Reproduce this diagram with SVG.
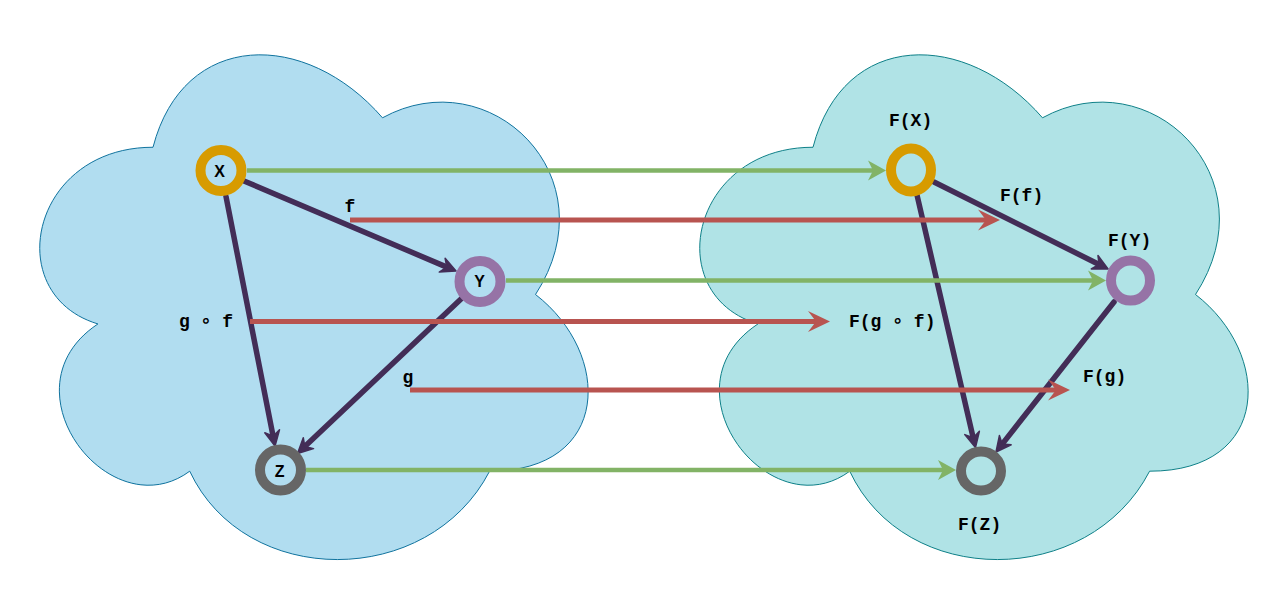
<svg xmlns="http://www.w3.org/2000/svg" width="1271" height="591" viewBox="0 0 1271 591">
<style>
.lbl{font-family:"Liberation Mono","DejaVu Sans Mono",monospace;font-weight:bold;font-size:18px;fill:#000}
.nlbl{font-family:"Liberation Sans","DejaVu Sans",sans-serif;font-weight:bold;font-size:16px;fill:#000;text-anchor:middle}
.pe{fill:none;stroke:#432d57;stroke-width:5.5;stroke-linecap:round}
.ge{fill:none;stroke:#82b366;stroke-width:4.5}
.re{fill:none;stroke:#b85450;stroke-width:5}
.ring{fill:none;stroke-width:10}
</style>
<defs>
<path id="cloud" d="M 153 147.25 C 30.6 147.25 0 294.5 97.92 323.95 C 0 388.74 110.16 530.1 189.72 471.2 C 244.8 589 428.4 589 489.6 471.2 C 612 471.2 612 353.4 535.5 294.5 C 612 176.7 489.6 58.9 382.5 117.8 C 306 29.45 183.6 29.45 153 147.25 Z"/>
<marker id="ap" viewBox="-20 -12 24 24" markerWidth="24" markerHeight="24" refX="-10" refY="0" orient="auto" markerUnits="userSpaceOnUse" overflow="visible"><path d="M0,0 L-15,-7.5 L-10,0 L-15,7.5 Z" fill="#432d57" stroke="#432d57" stroke-width="1.5" stroke-linejoin="round"/></marker>
<marker id="ag" viewBox="-20 -12 24 24" markerWidth="24" markerHeight="24" refX="-13" refY="0" orient="auto" markerUnits="userSpaceOnUse" overflow="visible"><path d="M0,0 L-18,-10 L-13,0 L-18,10 Z" fill="#82b366"/></marker>
<marker id="ar" viewBox="-24 -12 28 24" markerWidth="28" markerHeight="24" refX="-14" refY="0" orient="auto" markerUnits="userSpaceOnUse" overflow="visible"><path d="M0,0 L-22,-10.5 L-14,0 L-22,10.5 Z" fill="#b85450"/></marker>
</defs>
<g id="cloud-left"><use href="#cloud" fill="#b1ddf0" stroke="#10739e" stroke-width="1"/></g>
<g id="cloud-right"><use href="#cloud" transform="translate(660,0)" fill="#b0e3e6" stroke="#0e8088" stroke-width="1"/></g>
<g id="connectors">
<path class="pe" d="M244,181 L446.8,267.1" marker-end="url(#ap)"/>
<path class="pe" d="M226,196.5 L273.1,436.2" marker-end="url(#ap)"/>
<path class="pe" d="M461,299 L304.8,446.6" marker-end="url(#ap)"/>
<path class="pe" d="M934,182 L1099.1,264.5" marker-end="url(#ap)"/>
<path class="pe" d="M917,195 L973.2,437.8" marker-end="url(#ap)"/>
<path class="pe" d="M1114,302 L1002.2,444.1" marker-end="url(#ap)"/>
<path class="re" d="M350,220 L986,220" marker-end="url(#ar)"/>
<path class="re" d="M250,321.5 L816,321.5" marker-end="url(#ar)"/>
<path class="re" d="M410,390 L1056,390" marker-end="url(#ar)"/>
<path class="ge" d="M247,170.5 L873,170.5" marker-end="url(#ag)"/>
<path class="ge" d="M506,280.5 L1093,280.5" marker-end="url(#ag)"/>
<path class="ge" d="M306,470 L943,470" marker-end="url(#ag)"/>
</g>
<g id="edge-labels">
<text class="lbl" x="350" y="212" text-anchor="middle">f</text>
<text class="lbl" x="179" y="326.5">g ∘ f</text>
<text class="lbl" x="408" y="382.5" text-anchor="middle">g</text>
<text class="lbl" x="1000" y="201">F(f)</text>
<text class="lbl" x="849" y="326.7">F(g ∘ f)</text>
<text class="lbl" x="1083" y="381.7">F(g)</text>
</g>
<g id="node-X"><circle class="ring" cx="221" cy="170.5" r="20.5" stroke="#d79b00"/><text class="nlbl" x="219.5" y="176.7">X</text></g>
<g id="node-Y"><circle class="ring" cx="480" cy="281.5" r="20.5" stroke="#9673a6"/><text class="nlbl" x="479.5" y="287.3">Y</text></g>
<g id="node-Z"><circle class="ring" cx="280.5" cy="470" r="20.5" stroke="#666666"/><text class="nlbl" x="279.7" y="477.3">Z</text></g>
<g id="node-FX"><ellipse class="ring" cx="911" cy="170" rx="20" ry="21.5" stroke="#d79b00"/><text class="lbl" x="889" y="125.7">F(X)</text></g>
<g id="node-FY"><ellipse class="ring" cx="1130.5" cy="280.5" rx="19.5" ry="20" stroke="#9673a6"/><text class="lbl" x="1108" y="245.7">F(Y)</text></g>
<g id="node-FZ"><ellipse class="ring" cx="981" cy="471" rx="20" ry="19.5" stroke="#666666"/><text class="lbl" x="958" y="530">F(Z)</text></g>
</svg>
